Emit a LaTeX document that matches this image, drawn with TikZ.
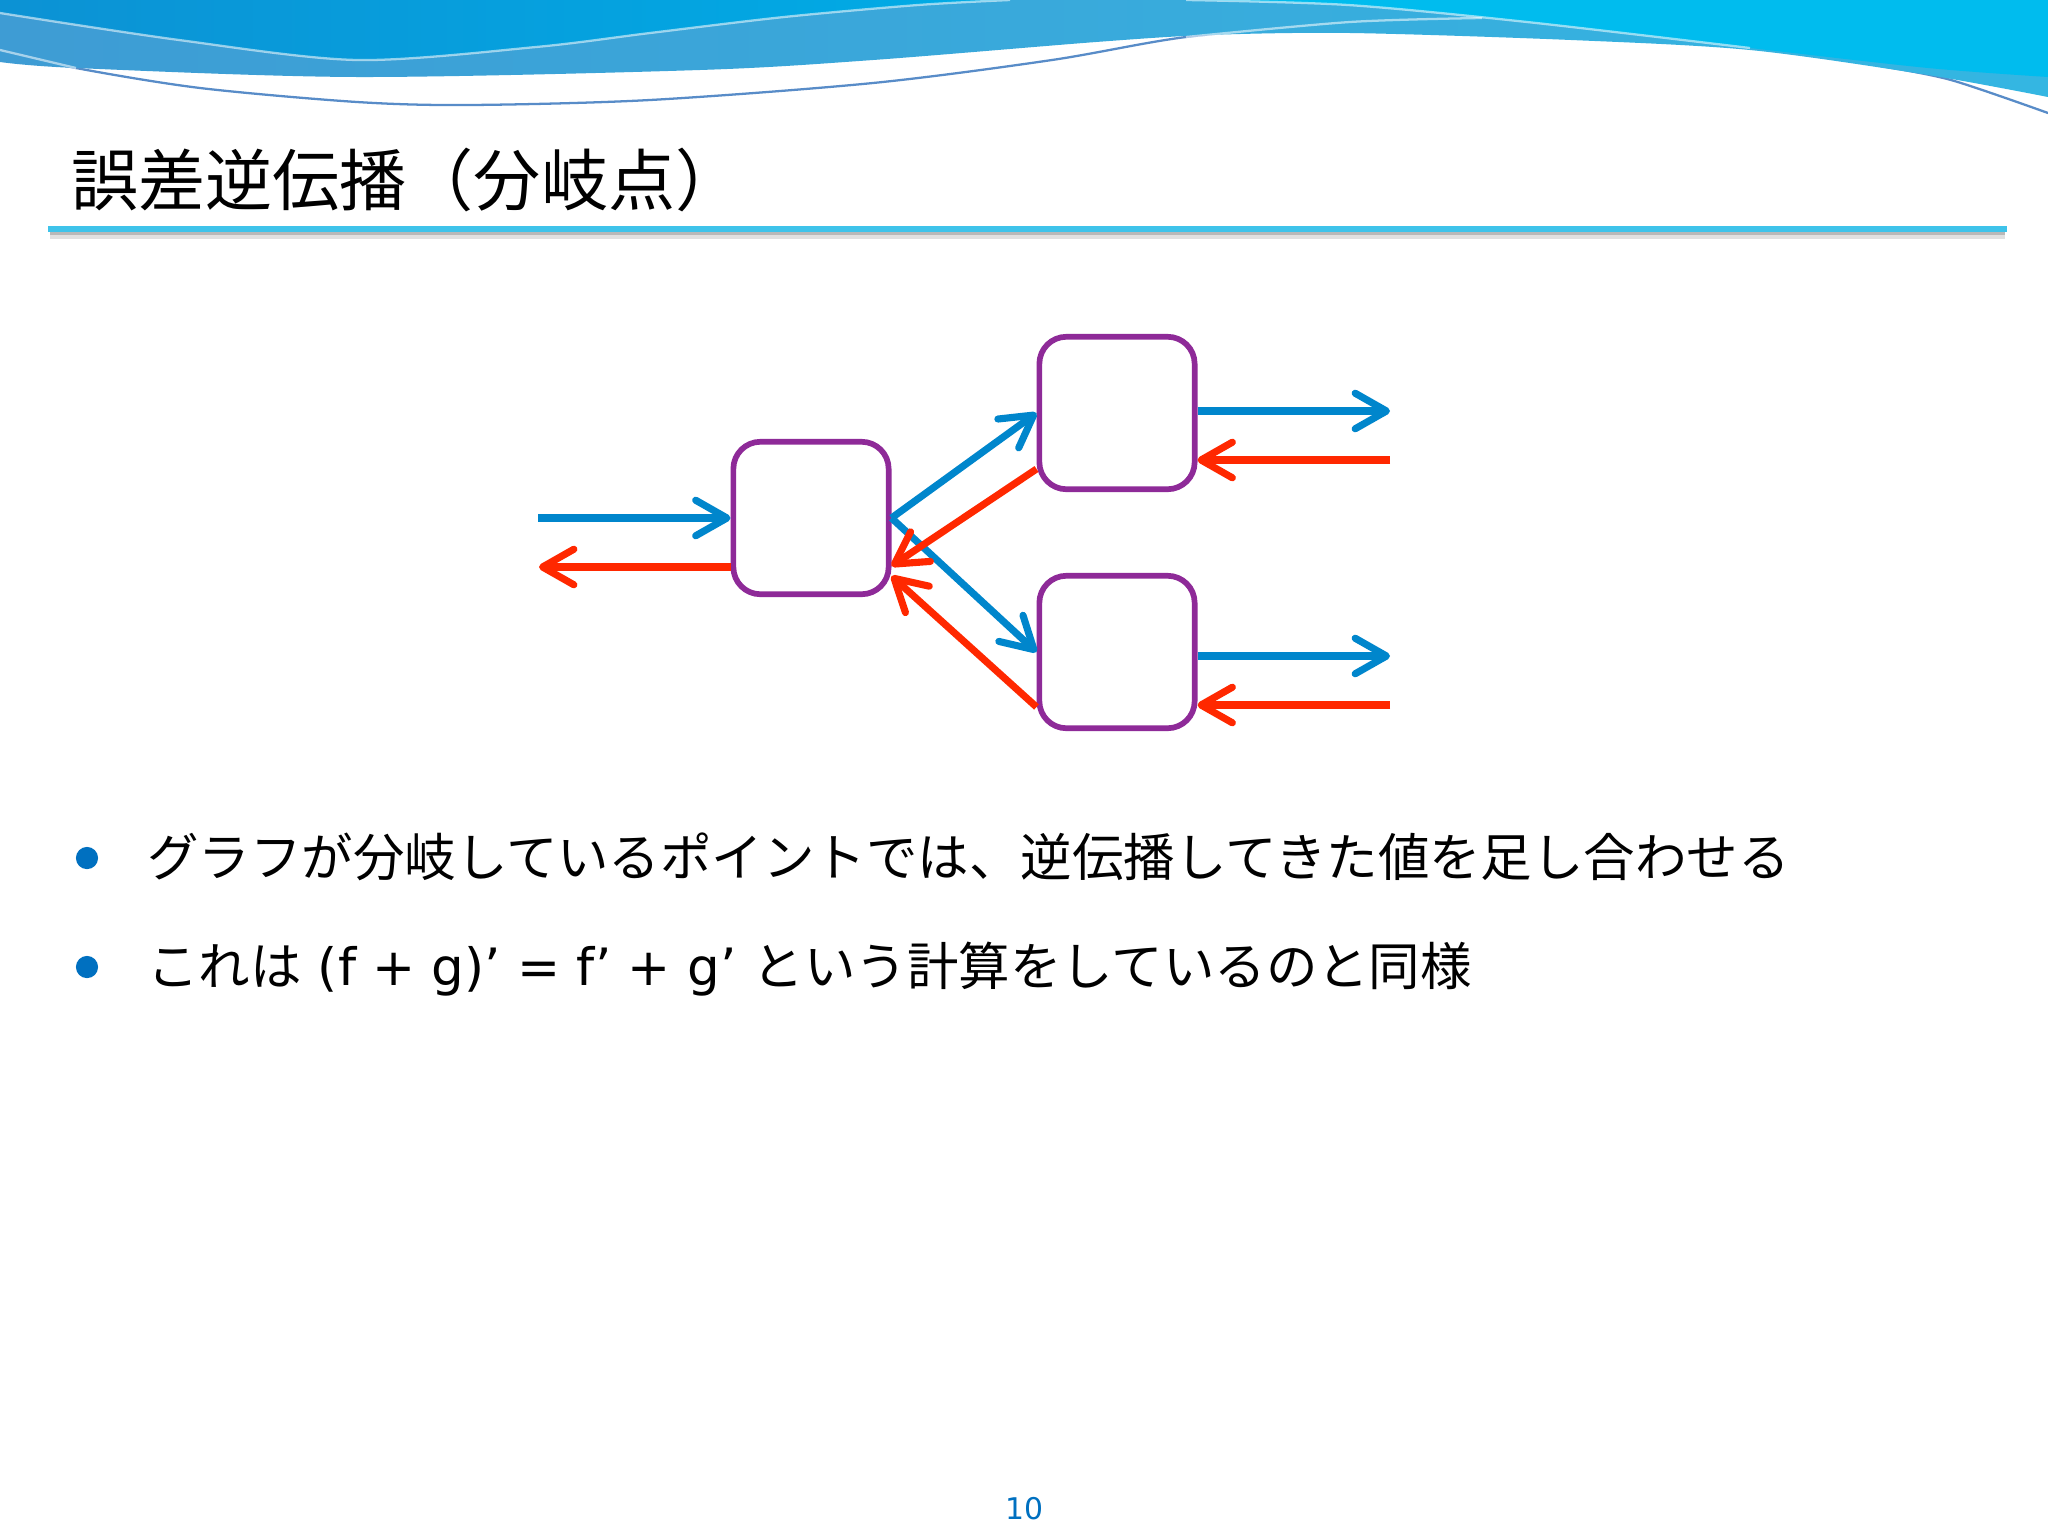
\documentclass[tikz,border=0pt]{standalone}
\usepackage{fontspec}
\setmainfont{Noto Sans CJK JP}
\newfontfamily\verdanalike{DejaVu Sans}
\usepackage{tikz}
\usetikzlibrary{arrows.meta,calc}

\definecolor{fwdblue}{RGB}{0,134,204}
\definecolor{bwdred}{RGB}{255,40,0}
\definecolor{unitpurple}{RGB}{142,42,152}
\definecolor{bulletblue}{RGB}{0,112,192}
\definecolor{rulecyan}{RGB}{62,195,234}
\definecolor{wavedeep}{RGB}{12,146,212}
\definecolor{wavemid}{RGB}{0,172,230}
\definecolor{bandleft}{RGB}{62,156,212}
\definecolor{bandright}{RGB}{52,182,226}
\definecolor{wavecyan}{RGB}{0,188,238}
\definecolor{waveline}{RGB}{88,140,200}

\begin{document}
\begin{tikzpicture}[x=0.3516pt,y=-0.3516pt,thick,
  unit/.style={draw=unitpurple,line width=2pt,rounded corners=9.5pt,
    minimum width=54.6pt,minimum height=53.6pt,fill=white},
  fwd/.style={draw=fwdblue,line width=2.5pt,-{Straight Barb[length=11pt,width=12.5pt,round]}},
  bwd/.style={draw=bwdred,line width=2.5pt,-{Straight Barb[length=11pt,width=12.5pt,round]}},
  hilite/.style={draw=white,opacity=0.55,line width=0.8pt}]

%Define text sizes
\def\titlesize{\fontsize{23.6pt}{28pt}\selectfont}   %title line.
\def\itemsize{\fontsize{18.1pt}{22pt}\selectfont}    %bullet lines.

\useasboundingbox (0,0) rectangle (2048,1536);
\fill[white] (0,0) rectangle (2048,1536);

% WAVE at the top
\begin{scope}
\clip (0,0) rectangle (2048,200);
\draw[waveline,line width=0.8pt] plot[smooth] coordinates {(0,50) (76,68) (200,88) (357,102) (469,105) (650,100) (873,83) (1052,60) (1186,37) (1350,22)};
\draw[waveline,line width=0.8pt] plot[smooth] coordinates {(1880,66) (1951,80) (2048,113)};
\path[left color=bandleft,right color=bandright] (0,0) -- plot[smooth] coordinates {(0,62) (76,68) (357,77) (700,70) (873,60) (1096,42) (1208,35) (1350,33) (1571,40) (1750,50) (1928,75) (2048,97)} -- (2048,0) -- cycle;
\path[left color=wavedeep,right color=wavemid] (0,0) -- plot[smooth] coordinates {(0,13) (179,40) (357,60) (536,47) (650,33) (784,17) (918,5) (1010,0)} -- cycle;
\fill[wavecyan] (1186,0) -- plot[smooth] coordinates {(1186,0) (1348,5) (1527,22) (1750,48) (1928,68) (2048,77)} -- (2048,0) -- cycle;
\draw[hilite] plot[smooth] coordinates {(0,13) (179,40) (357,60) (536,47) (650,33) (784,17) (918,5) (1010,0)};
\draw[hilite] plot[smooth] coordinates {(1186,0) (1348,5) (1527,22) (1750,48)};
\draw[hilite] plot[smooth] coordinates {(1186,37) (1350,22) (1482,18)};
\draw[hilite] (0,50) -- (76,68);
\end{scope}

% TITLE and rule
\node[anchor=base west,inner sep=0,font=\titlesize] (title) at (70,205) {誤差逆伝播（分岐点）};
\fill[black!28] (50,232) rectangle (2005,235);
\fill[black!12] (50,235) rectangle (2005,239);
\draw[rulecyan,line width=2.1pt] (48,229) -- (2007,229);

% Define coordinates
\coordinate (srcF) at (538,518);
\coordinate (srcB) at (539,567);
\coordinate (outTF) at (1390,411);
\coordinate (outTB) at (1390,460);
\coordinate (outBF) at (1390,656);
\coordinate (outBB) at (1390,705);

% BOXES
\node[unit] (L) at (811,518) {};
\node[unit] (TR) at (1117,413) {};
\node[unit] (BR) at (1117,652) {};

% FORWARD (blue)
\draw[fwd] (srcF) -- (L.west);
\draw[fwd] (L.east) -- (TR.west);
\draw[fwd] (L.east) -- (BR.west);
\draw[fwd] (TR.east |- outTF) -- (outTF);
\draw[fwd] (BR.east |- outBF) -- (outBF);

% BACKWARD (red)
\draw[bwd] (outTB) -- (TR.east |- outTB);
\draw[bwd] (outBB) -- (BR.east |- outBB);
\draw[bwd] ($(TR.west)+(0,56)$) -- ($(L.east)+(0,48)$);
\draw[bwd] ($(BR.west)+(0,55)$) -- ($(L.east)+(0,58)$);
\draw[bwd] (L.west |- srcB) -- (srcB);

% Bullet points
\fill[bulletblue] (87,858) circle[radius=3.9pt];
\fill[bulletblue] (87,967) circle[radius=3.9pt];
\node[anchor=base west,inner sep=0,font=\itemsize] (pt1) at (146,876) {グラフが分岐しているポイントでは、逆伝播してきた値を足し合わせる};
\node[anchor=base west,inner sep=0,font=\itemsize] (pt2) at (146,985) {これは{\verdanalike\ (f + g)’ = f’ + g’\ }という計算をしているのと同様};

% page number
\node[anchor=base,inner sep=0,text=bulletblue,font=\verdanalike\fontsize{10.5pt}{12pt}\selectfont] (pagenum) at (1024,1519) {10};

\end{tikzpicture}
\end{document}
